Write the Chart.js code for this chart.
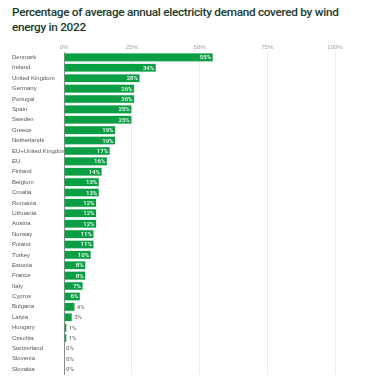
<!DOCTYPE html>
<html>
<head>
<meta charset="utf-8">
<script src="https://cdn.jsdelivr.net/npm/chart.js@4"></script>
<style>
  body { margin: 0; background: #fff; width: 381px; height: 380px; overflow: hidden; position: relative; font-family: Roboto, "Noto Sans", sans-serif; }
  #title { position: absolute; left: 12px; top: 5px; width: 360px; font-size: 11.8px; line-height: 15px; font-weight: 500; color: #1b3a2c; font-family: Roboto, sans-serif; letter-spacing: -0.3px; white-space: nowrap; }
  #wrap { position: absolute; left: 0; top: 40px; width: 381px; height: 340px; }
</style>
</head>
<body>
<div id="title">Percentage of average annual electricity demand covered by wind<br>energy in 2022</div>
<div id="wrap"><canvas id="chart"></canvas></div>
<script>
// countries, top to bottom
const countries = [
    'Denmark', 'Ireland', 'United Kingdom', 'Germany', 'Portugal', 'Spain', 'Sweden',
    'Greece', 'Netherlands', 'EU+United Kingdom', 'EU', 'Finland', 'Belgium', 'Croatia',
    'Romania', 'Lithuania', 'Austria', 'Norway', 'Poland', 'Turkey', 'Estonia', 'France',
    'Italy', 'Cyprus', 'Bulgaria', 'Latvia', 'Hungary', 'Czechia', 'Switzerland',
    'Slovenia', 'Slovakia'
];
// share of demand covered by wind (%)
const windShare = [
    55, 34, 28, 26, 26, 25, 25,
    19, 19, 17, 16, 14, 13, 13,
    12, 12, 12, 11, 11, 10, 8, 8,
    7, 6, 4, 3, 1, 1, 0,
    0, 0
];
const xTicks = [0, 25, 50, 75, 100];

const green = '#0a9f45';

// value labels: inside the bar (white) when it fits, else after it (grey)
const valueLabels = {
    id: 'valueLabels',
    afterDatasetsDraw(chart) {
        const c = chart.ctx;
        const meta = chart.getDatasetMeta(0);
        c.save();
        c.font = '500 6px Roboto, sans-serif';
        c.textBaseline = 'middle';
        meta.data.forEach((bar, i) => {
            const v = windShare[i];
            const txt = v + '%';
            if (v >= 6) {
                c.fillStyle = '#fff';
                c.textAlign = 'right';
                c.fillText(txt, bar.x - 2, bar.y + 0.5);
            } else {
                c.fillStyle = '#777';
                c.textAlign = 'left';
                c.fillText(txt, bar.x + 2, bar.y + 0.5);
            }
        });
        c.restore();
    }
};

new Chart(document.getElementById('chart'), {
    type: 'bar',
    data: {
        labels: countries,
        datasets: [{
            data: windShare,
            backgroundColor: green,
            borderColor: '#7fcf9c',
            borderWidth: 0.5,
            barPercentage: 0.9,
            categoryPercentage: 0.92
        }]
    },
    options: {
        indexAxis: 'y',
        responsive: true,
        maintainAspectRatio: false,
        animation: false,
        layout: { padding: { left: 12, right: 46, top: 3, bottom: 2 } },
        plugins: { legend: { display: false }, tooltip: { enabled: false } },
        scales: {
            x: {
                position: 'top',
                min: 0,
                max: 100,
                afterBuildTicks: axis => { axis.ticks = xTicks.map(v => ({ value: v })); },
                ticks: {
                    color: '#a0a0a0',
                    font: { size: 6 },
                    padding: 1,
                    callback: v => v + '%'
                },
                grid: { color: '#ececec', lineWidth: 1, drawTicks: false },
                border: { display: false }
            },
            y: {
                afterFit: axis => { axis.width = 52; },
                ticks: {
                    color: '#555',
                    font: { size: 6 },
                    crossAlign: 'far',
                    padding: 2,
                    autoSkip: false
                },
                grid: { display: false, drawTicks: false },
                border: { display: true, color: '#8a8a8a', width: 1 }
            }
        }
    },
    plugins: [valueLabels]
});
</script>
</body>
</html>
